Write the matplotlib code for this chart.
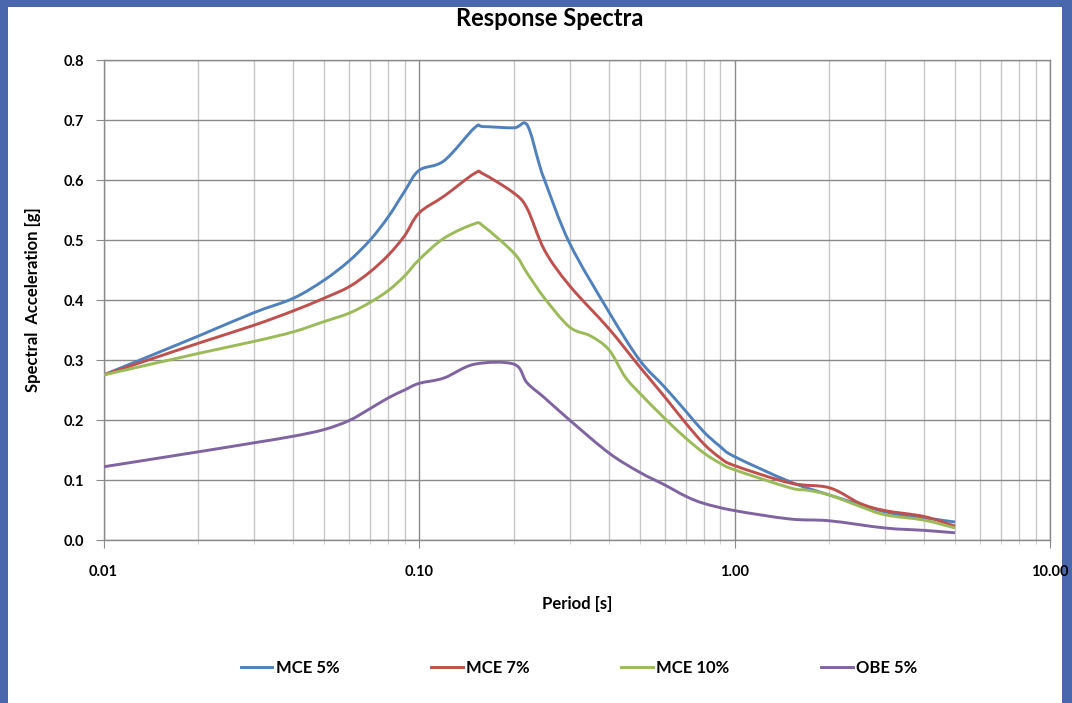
import matplotlib
matplotlib.use("Agg")
import numpy as np
import matplotlib.pyplot as plt
from matplotlib.patches import Rectangle, PathPatch
from matplotlib.path import Path
from matplotlib.lines import Line2D
from matplotlib.ticker import FixedLocator, FixedFormatter, NullFormatter, LogLocator

plt.rcParams['font.family'] = ['Lato', 'DejaVu Sans']

# ---- spectra (period in s, spectral acceleration in g) ----
period_mce5 = [0.01, 0.02, 0.03, 0.04, 0.05, 0.06, 0.07, 0.08, 0.09, 0.10, 0.12, 0.15,
               0.16, 0.20, 0.22, 0.24, 0.25, 0.30, 0.40, 0.50, 0.60, 0.70, 0.80, 0.90,
               1.00, 1.50, 2.00, 3.00, 4.00, 5.00]
mce5 = [0.275, 0.340, 0.379, 0.403, 0.433, 0.465, 0.500, 0.539, 0.581, 0.616, 0.632, 0.687,
        0.689, 0.687, 0.692, 0.628, 0.600, 0.495, 0.380, 0.300, 0.255, 0.215, 0.180, 0.156,
        0.139, 0.097, 0.075, 0.047, 0.037, 0.030]

period_mce7 = [0.01, 0.02, 0.03, 0.04, 0.05, 0.06, 0.07, 0.08, 0.09, 0.10, 0.12, 0.15,
               0.16, 0.20, 0.22, 0.25, 0.30, 0.40, 0.50, 0.60, 0.70, 0.80, 0.90, 1.00,
               1.50, 2.00, 2.50, 3.00, 4.00, 5.00]
mce7 = [0.275, 0.328, 0.358, 0.382, 0.403, 0.422, 0.447, 0.475, 0.507, 0.545, 0.573, 0.611,
        0.610, 0.578, 0.553, 0.483, 0.424, 0.352, 0.289, 0.239, 0.195, 0.160, 0.137, 0.124,
        0.095, 0.087, 0.061, 0.049, 0.039, 0.023]

period_mce10 = [0.01, 0.02, 0.03, 0.04, 0.05, 0.06, 0.07, 0.08, 0.09, 0.10, 0.12, 0.15,
                0.16, 0.20, 0.22, 0.25, 0.30, 0.35, 0.40, 0.45, 0.50, 0.60, 0.70, 0.80,
                0.90, 1.00, 1.50, 1.70, 2.00, 2.50, 3.00, 4.00, 5.00]
mce10 = [0.275, 0.311, 0.331, 0.347, 0.364, 0.378, 0.396, 0.416, 0.440, 0.467, 0.503, 0.527,
         0.523, 0.478, 0.445, 0.403, 0.355, 0.340, 0.317, 0.272, 0.245, 0.203, 0.170, 0.145,
         0.128, 0.117, 0.087, 0.083, 0.075, 0.056, 0.042, 0.033, 0.020]

period_obe5 = [0.01, 0.02, 0.03, 0.04, 0.05, 0.06, 0.07, 0.08, 0.09, 0.10, 0.12, 0.15,
               0.20, 0.22, 0.25, 0.30, 0.40, 0.50, 0.60, 0.70, 0.80, 1.00, 1.50,
               2.00, 3.00, 4.00, 5.00]
obe5 = [0.122, 0.147, 0.162, 0.173, 0.184, 0.199, 0.219, 0.237, 0.250, 0.261, 0.270, 0.293,
        0.293, 0.262, 0.237, 0.200, 0.145, 0.113, 0.092, 0.073, 0.061, 0.049, 0.035,
        0.032, 0.020, 0.016, 0.012]

series = [
    ('MCE 5%', period_mce5, mce5, '#4F81BD'),
    ('MCE 7%', period_mce7, mce7, '#C0504D'),
    ('MCE 10%', period_mce10, mce10, '#9BBB59'),
    ('OBE 5%', period_obe5, obe5, '#8064A2'),
]

x_ticks = [0.01, 0.1, 1.0, 10.0]
x_labels = ['0.01', '0.10', '1.00', '10.00']
y_ticks = [0.0, 0.1, 0.2, 0.3, 0.4, 0.5, 0.6, 0.7, 0.8]


def smooth_path(xs, ys):
    """Smoothed line through the points (Catmull-Rom as cubic Beziers, log-x space)."""
    u = np.log10(np.asarray(xs, float))
    v = np.asarray(ys, float)
    p = np.column_stack([u, v])
    p = np.vstack([p[0], p, p[-1]])
    verts = [p[1]]
    codes = [Path.MOVETO]
    for i in range(1, len(p) - 2):
        c1 = p[i] + (p[i + 1] - p[i - 1]) / 6.0
        c2 = p[i + 1] - (p[i + 2] - p[i]) / 6.0
        verts += [c1, c2, p[i + 1]]
        codes += [Path.CURVE4] * 3
    verts = np.array(verts)
    verts[:, 0] = 10 ** verts[:, 0]
    return Path(verts, codes)


fig = plt.figure(figsize=(10.72, 7.03), dpi=100)
fig.patch.set_facecolor('#4a67ad')
# white slide area inside the blue frame
fig.patches.append(Rectangle((8 / 1072, 0), (1062 - 8) / 1072, (703 - 7) / 703,
                             transform=fig.transFigure, facecolor='white',
                             edgecolor='none', zorder=-10))

ax = fig.add_axes([103.5 / 1072, 163 / 703, (1050 - 103.5) / 1072, 480 / 703])
ax.set_facecolor('white')

ax.set_xscale('log')
ax.set_xlim(0.01, 10)
ax.set_ylim(0, 0.8)

handles = []
for name, px, py, col in series:
    ax.add_patch(PathPatch(smooth_path(px, py), facecolor='none', edgecolor=col,
                           lw=2.1, joinstyle='round', capstyle='butt', zorder=3))
    handles.append(Line2D([], [], color=col, lw=2.1, label=name))

ax.xaxis.set_major_locator(FixedLocator(x_ticks))
ax.xaxis.set_major_formatter(FixedFormatter(x_labels))
ax.xaxis.set_minor_locator(LogLocator(base=10, subs=range(2, 10)))
ax.xaxis.set_minor_formatter(NullFormatter())
ax.set_yticks(y_ticks)
ax.set_yticklabels([f'{v:.1f}' for v in y_ticks])

ax.grid(which='major', axis='both', color='#8a8a8a', lw=1.0)
ax.grid(which='minor', axis='x', color='#c8c8c8', lw=1.0)
ax.set_axisbelow(True)

for s in ax.spines.values():
    s.set_color('#8a8a8a')
    s.set_linewidth(1.0)

ax.tick_params(axis='y', which='major', length=6, color='#8a8a8a', pad=8,
               labelsize=10.5)
ax.tick_params(axis='x', which='major', length=6, color='#8a8a8a', pad=12,
               labelsize=10.5)
ax.tick_params(axis='x', which='minor', length=3, color='#c8c8c8')
for lab in ax.get_xticklabels() + ax.get_yticklabels():
    lab.set_fontweight('bold')

ax.set_xlabel('Period [s]', fontsize=12, fontweight='bold', labelpad=12)
ax.set_ylabel('Spectral  Acceleration [g]', fontsize=12, fontweight='bold',
              labelpad=16)

fig.text(550 / 1072, 1 - 19 / 703, 'Response Spectra', ha='center', va='center',
         fontsize=17, fontweight='bold')

fig.legend(handles=handles, loc='center', bbox_to_anchor=(579 / 1072, 1 - 668 / 703),
           ncol=4, frameon=False, handlelength=1.9, handletextpad=0.2,
           columnspacing=5.5, prop={'size': 12, 'weight': 'bold'})

fig.savefig('out.png', dpi=100, facecolor=fig.get_facecolor())
